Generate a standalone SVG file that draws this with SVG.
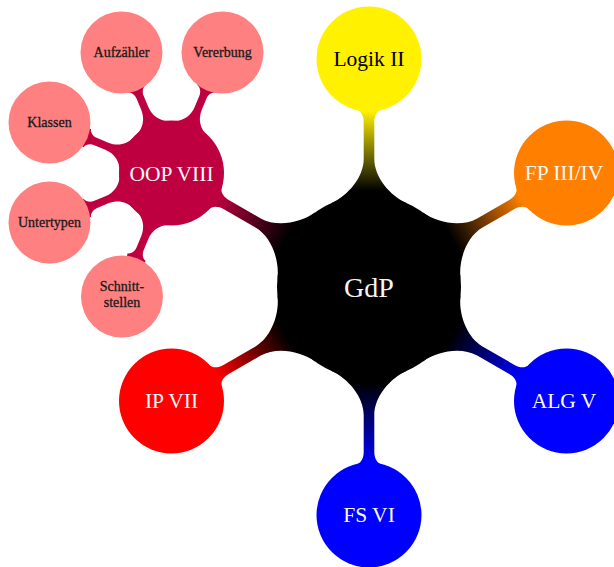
<svg xmlns="http://www.w3.org/2000/svg" xmlns:xlink="http://www.w3.org/1999/xlink" width="614" height="567" viewBox="0 0 614 567">
  <style>
    .t { font-family: "Liberation Serif", "Times New Roman", serif; text-anchor: middle; }
    .l0 { font-size: 28px; fill: #f4f4f4; }
    .l1 { font-size: 21.5px; fill: #f8f8f8; }
    .l2 { font-size: 14px; fill: #1a1a1a; stroke: #1a1a1a; stroke-width: 0.3px; }
    .c2 { fill: #ff8080; }
  </style>
  <defs>
    <path id="bar1" d="M 0 0 L 84 -37.4 C 91.3 -21 110 -5.3 128 -5.3 L 165 -5.3 C 171 -5.3 176.2 -7.7 177.8 -13.5 L 228 0 L 177.8 13.5 C 176.2 7.7 171 5.3 165 5.3 L 128 5.3 C 110 5.3 91.3 21 84 37.4 Z"/>
    <path id="bar2" d="M 0 0 L 48.9 -17.8 C 52 -9.3 60 -3.8 70 -3.8 L 82 -3.8 C 86 -3.8 90.2 -6 91.2 -9.9 L 131 0 L 91.2 9.9 C 90.2 6 86 3.8 82 3.8 L 70 3.8 C 60 3.8 52 9.3 48.9 17.8 Z"/>
    <linearGradient id="gY" gradientUnits="userSpaceOnUse" x1="96" y1="0" x2="176" y2="0"><stop offset="0" stop-color="#000"/><stop offset="1" stop-color="#fff100"/></linearGradient>
    <linearGradient id="gO" gradientUnits="userSpaceOnUse" x1="96" y1="0" x2="176" y2="0"><stop offset="0" stop-color="#000"/><stop offset="1" stop-color="#ff8000"/></linearGradient>
    <linearGradient id="gB" gradientUnits="userSpaceOnUse" x1="96" y1="0" x2="176" y2="0"><stop offset="0" stop-color="#000"/><stop offset="1" stop-color="#0000ff"/></linearGradient>
    <linearGradient id="gR" gradientUnits="userSpaceOnUse" x1="96" y1="0" x2="176" y2="0"><stop offset="0" stop-color="#000"/><stop offset="1" stop-color="#ff0000"/></linearGradient>
    <linearGradient id="gP" gradientUnits="userSpaceOnUse" x1="96" y1="0" x2="176" y2="0"><stop offset="0" stop-color="#000"/><stop offset="1" stop-color="#bf0040"/></linearGradient>
  </defs>

  <g id="connectors">
    <use xlink:href="#bar1" href="#bar1" transform="translate(369,287) rotate(-90)" fill="url(#gY)"/>
    <use xlink:href="#bar1" href="#bar1" transform="translate(369,287) rotate(-30)" fill="url(#gO)"/>
    <use xlink:href="#bar1" href="#bar1" transform="translate(369,287) rotate(30)" fill="url(#gB)"/>
    <use xlink:href="#bar1" href="#bar1" transform="translate(369,287) rotate(90)" fill="url(#gB)"/>
    <use xlink:href="#bar1" href="#bar1" transform="translate(369,287) rotate(150)" fill="url(#gR)"/>
    <use xlink:href="#bar1" href="#bar1" transform="translate(369,287) rotate(-150)" fill="url(#gP)"/>
    <use xlink:href="#bar2" href="#bar2" transform="translate(171.5,173) rotate(-67.5)" fill="#bf0040"/>
    <use xlink:href="#bar2" href="#bar2" transform="translate(171.5,173) rotate(-112.5)" fill="#bf0040"/>
    <use xlink:href="#bar2" href="#bar2" transform="translate(171.5,173) rotate(-157.5)" fill="#bf0040"/>
    <use xlink:href="#bar2" href="#bar2" transform="translate(171.5,173) rotate(157.5)" fill="#bf0040"/>
    <use xlink:href="#bar2" href="#bar2" transform="translate(171.5,173) rotate(112.5)" fill="#bf0040"/>
  </g>

  <g id="gdp">
    <circle cx="369" cy="287" r="92" fill="#000000"/>
    <text class="t l0" x="369" y="297">GdP</text>
  </g>
  <g id="logik">
    <circle cx="369" cy="59" r="52.5" fill="#fff100"/>
    <text class="t l1" x="369" y="66" style="fill:#000000">Logik II</text>
  </g>
  <g id="fp">
    <circle cx="566.5" cy="173" r="52.5" fill="#ff8000"/>
    <text class="t l1" x="564" y="180">FP III/IV</text>
  </g>
  <g id="alg">
    <circle cx="566.5" cy="401" r="52.5" fill="#0000ff"/>
    <text class="t l1" x="564" y="408">ALG V</text>
  </g>
  <g id="fs">
    <circle cx="369" cy="515" r="52.5" fill="#0000ff"/>
    <text class="t l1" x="369" y="522">FS VI</text>
  </g>
  <g id="ip">
    <circle cx="171.5" cy="401" r="52.5" fill="#ff0000"/>
    <text class="t l1" x="171.5" y="408">IP VII</text>
  </g>
  <g id="oop">
    <circle cx="171.5" cy="173" r="52.5" fill="#bf0040"/>
    <text class="t l1" x="171.5" y="181">OOP VIII</text>
  </g>
  <g id="vererbung">
    <circle class="c2" cx="222.5" cy="52.5" r="41"/>
    <text class="t l2" x="222.5" y="57">Vererbung</text>
  </g>
  <g id="aufzaehler">
    <circle class="c2" cx="121.5" cy="52.5" r="41"/>
    <text class="t l2" x="121.5" y="57">Aufzähler</text>
  </g>
  <g id="klassen">
    <circle class="c2" cx="49.5" cy="122.5" r="41"/>
    <text class="t l2" x="49.5" y="127">Klassen</text>
  </g>
  <g id="untertypen">
    <circle class="c2" cx="49.5" cy="222.5" r="41"/>
    <text class="t l2" x="49.5" y="227">Untertypen</text>
  </g>
  <g id="schnittstellen">
    <circle class="c2" cx="122" cy="296.5" r="41"/>
    <text class="t l2" x="122" y="291">Schnitt-</text>
    <text class="t l2" x="122" y="307">stellen</text>
  </g>
</svg>
